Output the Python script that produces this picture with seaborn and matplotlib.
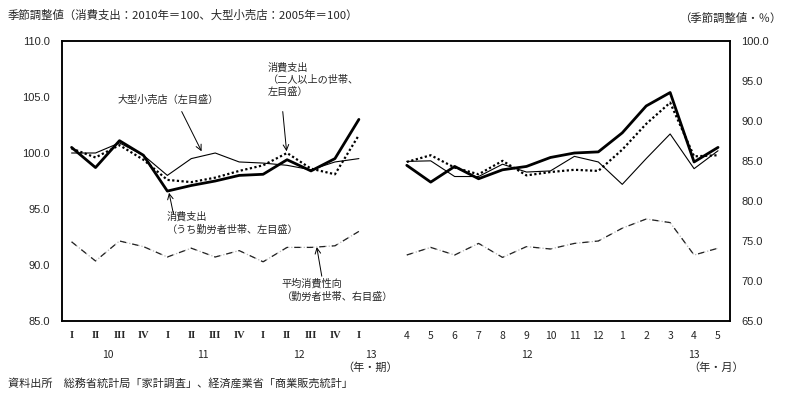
import pandas as pd
import seaborn as sns
import matplotlib.pyplot as plt
from matplotlib.ticker import FormatStrFormatter
import matplotlib.transforms as mtransforms

# quarterly part: 2010 I .. 2013 I, monthly part: 2012/4 .. 2013/5
quarter_labels = ['I', 'II', 'III', 'IV'] * 3 + ['I']
month_labels = ['4', '5', '6', '7', '8', '9', '10', '11', '12', '1', '2', '3', '4', '5']
quarter_years = ['10', '11', '12', '13']
month_years = ['12', '13']

spend_all_q = [100.5, 98.7, 101.1, 99.8, 96.6, 97.1, 97.5, 98.0, 98.1, 99.4, 98.4, 99.5, 103.0]
spend_all_m = [98.9, 97.4, 98.8, 97.7, 98.5, 98.8, 99.6, 100.0, 100.1, 101.8, 104.2, 105.4, 99.2, 100.5]
spend_worker_q = [100.4, 99.6, 100.7, 99.4, 97.6, 97.4, 97.8, 98.4, 98.9, 100.0, 98.6, 98.1, 101.6]
spend_worker_m = [99.2, 99.8, 98.7, 98.1, 99.3, 98.0, 98.3, 98.5, 98.4, 100.3, 102.6, 104.5, 99.7, 99.8]
retail_q = [100.0, 100.0, 100.9, 99.8, 98.0, 99.5, 100.0, 99.2, 99.1, 98.9, 98.5, 99.2, 99.5]
retail_m = [99.25, 99.3, 97.9, 97.9, 99.0, 98.3, 98.4, 99.7, 99.2, 97.2, 99.5, 101.7, 98.6, 100.2]
propensity_q = [74.9, 72.5, 75.0, 74.3, 73.0, 74.1, 73.0, 73.8, 72.4, 74.2, 74.2, 74.4, 76.2]
propensity_m = [73.25, 74.2, 73.25, 74.7, 72.95, 74.3, 74.0, 74.7, 75.0, 76.6, 77.75, 77.3, 73.25, 74.1]

q_pos = list(range(len(quarter_labels)))
m_pos = [len(quarter_labels) + 1 + i for i in range(len(month_labels))]


def long_frame(q_vals, m_vals):
    q = pd.DataFrame({'pos': q_pos, 'value': q_vals, 'seg': 'q'})
    m = pd.DataFrame({'pos': m_pos, 'value': m_vals, 'seg': 'm'})
    return pd.concat([q, m], ignore_index=True)


sns.set_style('white')
plt.rcParams['font.family'] = ['Noto Sans CJK JP', 'DejaVu Sans']

fig = plt.figure(figsize=(7.91, 3.98), dpi=100)
ax = fig.add_axes([62 / 791, 1 - 321 / 398, (730 - 62) / 791, 280 / 398])
ax2 = ax.twinx()

common = dict(x='pos', y='value', units='seg', estimator=None, color='black', legend=False)
sns.lineplot(data=long_frame(retail_q, retail_m), ax=ax, lw=0.8, **common)
sns.lineplot(data=long_frame(spend_worker_q, spend_worker_m), ax=ax, lw=1.6,
             linestyle=(0, (1, 1.1)), **common)
sns.lineplot(data=long_frame(spend_all_q, spend_all_m), ax=ax, lw=2.0, **common)

prop = long_frame(propensity_q, propensity_m)
sns.lineplot(data=prop, ax=ax2, x='pos', y='value', units='seg', estimator=None,
             color='#b8b8b8', lw=0.9, linestyle=(0, (1, 1.5)), legend=False)
sns.lineplot(data=prop, ax=ax2, x='pos', y='value', units='seg', estimator=None,
             color='#222222', lw=0.9, linestyle=(0, (5, 5)), legend=False)

ax.set_xlim(-0.4, 27.5)
ax.set_ylim(85, 110)
ax2.set_ylim(65, 100)
ax.set_yticks([85, 90, 95, 100, 105, 110])
ax2.set_yticks([65, 70, 75, 80, 85, 90, 95, 100])
ax.yaxis.set_major_formatter(FormatStrFormatter('%.1f'))
ax2.yaxis.set_major_formatter(FormatStrFormatter('%.1f'))
ax.set_xticks(q_pos + m_pos)
ax.set_xticklabels(quarter_labels + month_labels)
for t in ax.get_xticklabels()[:len(quarter_labels)]:
    t.set_family(['Liberation Serif'])
    t.set_fontweight('bold')
    t.set_fontsize(8)
ax.tick_params(axis='x', length=0, pad=7, labelsize=7.5)
ax.tick_params(axis='y', length=0, pad=9, labelsize=8)
ax2.tick_params(axis='y', length=0, pad=8, labelsize=8)
for t in ax.get_yticklabels() + ax2.get_yticklabels():
    t.set_family(['Liberation Sans'])
ax.set_xlabel('')
ax.set_ylabel('')
ax2.set_ylabel('')
for a in (ax, ax2):
    for s in a.spines.values():
        s.set_color('black')
        s.set_linewidth(1.1)

# year labels under the ticks
trans = mtransforms.blended_transform_factory(ax.transData, ax.transAxes)
for x, lab in zip([1.5, 5.5, 9.5, 12.5], quarter_years):
    ax.text(x, -0.122, lab, transform=trans, ha='center', va='center', fontsize=7.5)
for x, lab in zip([19.0, 26.0], month_years):
    ax.text(x, -0.122, lab, transform=trans, ha='center', va='center', fontsize=7.5)
ax.text(12.45, -0.165, '（年・期）', transform=trans, ha='center', va='center', fontsize=8)
ax.text(26.9, -0.165, '（年・月）', transform=trans, ha='center', va='center', fontsize=8)

# annotations
arrow = dict(arrowstyle='->', lw=0.7, color='black', shrinkA=0, shrinkB=0)
ax.text(1.93, 104.73, '大型小売店（左目盛）', ha='left', va='center', fontsize=7.3)
ax.annotate('', xy=(5.43, 100.15), xytext=(4.6, 103.7), arrowprops=arrow)
ax.text(8.2, 108.1, '消費支出\n（二人以上の世帯、\n左目盛）', ha='left', va='top',
        fontsize=7.3, linespacing=1.3)
ax.annotate('', xy=(8.98, 100.15), xytext=(8.82, 103.7), arrowprops=arrow)
ax.text(3.97, 94.75, '消費支出\n（うち勤労者世帯、左目盛）', ha='left', va='top',
        fontsize=7.3, linespacing=1.3)
ax.annotate('', xy=(4.07, 96.45), xytext=(4.25, 94.6), arrowprops=arrow)
ax.text(8.78, 88.8, '平均消費性向\n（勤労者世帯、右目盛）', ha='left', va='top',
        fontsize=7.3, linespacing=1.3)
ax.annotate('', xy=(10.24, 91.6), xytext=(10.45, 89.0), arrowprops=arrow)

fig.text(8 / 791, 1 - 15 / 398, '季節調整値（消費支出：2010年＝100、大型小売店：2005年＝100）',
         ha='left', va='center', fontsize=8.2)
fig.text(781 / 791, 1 - 18 / 398, '（季節調整値・％）', ha='right', va='center', fontsize=8.2)
fig.text(8 / 791, 1 - 383 / 398, '資料出所　総務省統計局「家計調査」、経済産業省「商業販売統計」',
         ha='left', va='center', fontsize=8)

fig.savefig('out.png', dpi=100)
